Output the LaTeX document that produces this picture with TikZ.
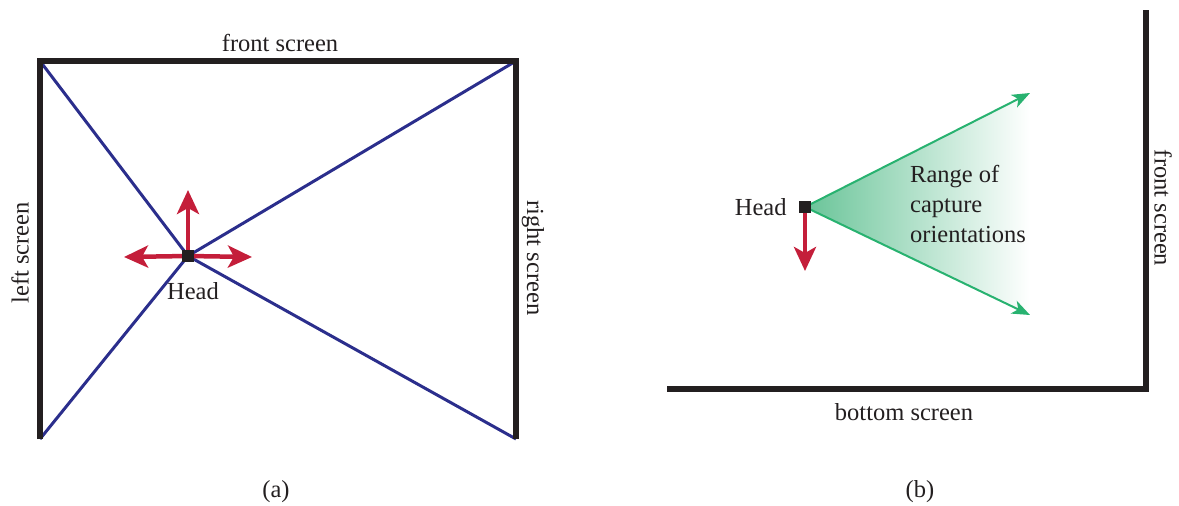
\documentclass[tikz,border=0pt]{standalone}
\usepackage{fontspec}
\setmainfont{Liberation Serif}
\usetikzlibrary{arrows.meta, positioning}

\definecolor{wallblack}{RGB}{35,31,32}
\definecolor{rayblue}{RGB}{43,46,140}
\definecolor{dirred}{RGB}{196,30,58}
\definecolor{rangegreen}{RGB}{40,178,112}
\definecolor{rangefill}{RGB}{105,196,152}

\tikzset{
  wall/.style={line width=5.5pt, draw=wallblack},
  ray/.style={line width=3pt, draw=rayblue},
  dirarrow/.style={line width=4.5pt, draw=dirred, -{Stealth[length=24pt, width=22pt, inset=6pt]}},
  rangearrow/.style={line width=2pt, draw=rangegreen, -{Stealth[length=18pt, width=14pt, inset=5pt]}},
  headbox/.style={draw=none, fill=wallblack, minimum size=12pt, inner sep=0pt},
  label/.style={draw=none, inner sep=0pt, text=wallblack}
}

\begin{document}
\begin{tikzpicture}[x=1pt, y=-1pt, every node/.style={font=\fontsize{24.5}{30}\selectfont}]
        \useasboundingbox (0,0) rectangle (1179,506);

        % (a) 上から見た部屋
        \coordinate (tl) at (40,61);
        \coordinate (tr) at (516,61);
        \coordinate (bl) at (40,439);
        \coordinate (br) at (516,439);
        \coordinate (hA) at (188,256);

        \draw[ray] (tl) -- (hA);
        \draw[ray] (tr) -- (hA);
        \draw[ray] (bl) -- (hA);
        \draw[ray] (br) -- (hA);

        \draw[wall] (bl) -- (tl) -- (tr) -- (br);

        \coordinate (upA) at (188,190);
        \coordinate (leftA) at (124,257);
        \coordinate (rightA) at (252,257);
        \draw[dirarrow] (hA) -- (upA);
        \draw[dirarrow] (hA) -- (leftA);
        \draw[dirarrow] (hA) -- (rightA);

        \node[headbox] (headA) at (hA) {};
        \node[label, below=20pt of headA.south, xshift=5pt] (headAtxt) {Head};

        \node[label] (frontA) at (280,43) {front screen};
        \node[label, rotate=90] (leftS) at (20,253) {left screen};
        \node[label, rotate=-90] (rightS) at (533,258) {right screen};
        \node[label] (capA) at (276,492) {(a)};

        % (b) 横から見た部屋
        \coordinate (hB) at (805,207);
        \coordinate (rayTop) at (1030,93);
        \coordinate (rayBot) at (1030,315);

        \shade[left color=rangefill, right color=white] (hB) -- (rayTop) -- (rayBot) -- cycle;
        \draw[rangearrow] (hB) -- (rayTop);
        \draw[rangearrow] (hB) -- (rayBot);

        \coordinate (downB) at (805,271);
        \draw[dirarrow] (hB) -- (downB);

        \node[headbox] (headB) at (hB) {};
        \node[label, left=12pt of headB] (headBtxt) {Head};
        \node[label, align=left, anchor=west] (range) at (910,204) {Range of\\capture\\orientations};

        \coordinate (floorL) at (667,389);
        \coordinate (corner) at (1146,389);
        \coordinate (wallT) at (1146,10);
        \draw[wall] (floorL) -- (corner) -- (wallT);

        \node[label, rotate=-90] (frontB) at (1163,208) {front screen};
        \node[label] (bottomB) at (904,412) {bottom screen};
        \node[label] (capB) at (920,492) {(b)};
    \end{tikzpicture}
\end{document}
